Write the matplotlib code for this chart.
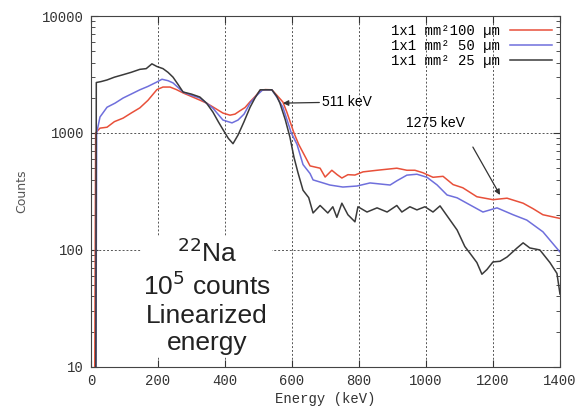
import matplotlib.pyplot as plt
from matplotlib.ticker import LogLocator, NullFormatter

# spectra (energy in keV, counts)
energy_100 = [0, 11, 14, 27, 48, 70, 96, 120, 146, 170, 197, 215, 236, 255, 275, 300, 325, 345,
              364, 394, 415, 430, 445, 460, 475, 490, 505, 520, 540, 555, 573, 585, 606, 620,
              633, 654, 684, 699, 719, 735, 749, 767, 788, 812, 854, 913, 943, 967, 991, 1021,
              1051, 1081, 1110, 1152, 1200, 1242, 1290, 1320, 1349, 1400]
counts_100 = [1, 5, 1000, 1100, 1120, 1250, 1340, 1480, 1640, 1900, 2350, 2470, 2470, 2350, 2200,
              2050, 1910, 1800, 1670, 1480, 1420, 1450, 1550, 1650, 1850, 2050, 2300, 2350, 2340,
              2100, 1840, 1500, 1000, 800, 680, 523, 500, 420, 480, 440, 412, 440, 437, 465, 480,
              500, 480, 480, 457, 418, 426, 362, 340, 285, 269, 277, 251, 225, 200, 186]

energy_50 = [0, 14, 17, 27, 48, 72, 96, 120, 146, 170, 197, 212, 230, 245, 260, 275, 300, 325,
             345, 364, 394, 421, 439, 457, 475, 495, 513, 540, 556, 573, 598, 615, 633, 654, 663,
             693, 713, 752, 794, 833, 893, 913, 943, 973, 1003, 1033, 1063, 1093, 1131, 1170,
             1212, 1260, 1301, 1349, 1400]
counts_50 = [1, 1, 1000, 1370, 1660, 1800, 1990, 2150, 2340, 2500, 2730, 2880, 2800, 2680, 2450,
             2240, 2100, 1990, 1800, 1630, 1290, 1220, 1290, 1450, 1800, 2100, 2340, 2340, 2000,
             1660, 1000, 800, 537, 450, 397, 374, 359, 345, 352, 374, 359, 390, 436, 444, 418,
             360, 295, 279, 243, 211, 229, 200, 180, 143, 96]

energy_25 = [0, 14, 16, 30, 48, 70, 96, 120, 146, 165, 182, 197, 215, 230, 245, 260, 275, 300,
             325, 345, 364, 380, 394, 410, 424, 439, 457, 475, 490, 505, 540, 555, 564, 580, 594,
             606, 618, 633, 650, 663, 684, 707, 722, 734, 749, 767, 788, 797, 824, 854, 884, 913,
             928, 952, 973, 997, 1021, 1042, 1072, 1093, 1116, 1131, 1152, 1167, 1182, 1200,
             1221, 1242, 1272, 1290, 1310, 1340, 1370, 1391, 1400]
counts_25 = [1, 1, 2700, 2750, 2840, 3000, 3150, 3300, 3500, 3550, 3900, 3700, 3550, 3300, 3000,
             2600, 2240, 2150, 2030, 1800, 1510, 1250, 1070, 900, 810, 960, 1250, 1660, 2000,
             2340, 2340, 2050, 1800, 1300, 920, 620, 457, 324, 280, 207, 240, 207, 234, 190, 251,
             200, 174, 234, 211, 229, 211, 240, 211, 234, 220, 234, 211, 238, 180, 148, 107, 94,
             78, 62, 68, 79, 80, 87, 104, 115, 104, 100, 78, 63, 42]

labels = ['1x1 mm²100 µm', '1x1 mm² 50 µm', '1x1 mm² 25 µm']
mono = 'Liberation Mono'

fig = plt.figure(figsize=(5.83, 4.16), dpi=100)
ax = fig.add_axes([0.156, 0.118, 0.8045, 0.8435])

ax.plot(energy_100, counts_100, color='#e8503a', lw=1.1, label=labels[0])
ax.plot(energy_50, counts_50, color='#6f6fdc', lw=1.1, label=labels[1])
ax.plot(energy_25, counts_25, color='#3a3a3a', lw=1.1, label=labels[2])

ax.set_yscale('log')
ax.set_xlim(0, 1400)
ax.set_ylim(10, 10000)
ax.set_xticks([0, 200, 400, 600, 800, 1000, 1200, 1400])
ax.set_yticks([10, 100, 1000, 10000])
ax.set_yticklabels(['10', '100', '1000', '10000'])
ax.yaxis.set_minor_locator(LogLocator(base=10, subs=range(2, 10)))
ax.yaxis.set_minor_formatter(NullFormatter())
ax.tick_params(which='both', direction='in', top=True, right=True, labelsize=10, colors='#333333')
ax.tick_params(which='major', length=5, pad=5)
ax.tick_params(which='minor', length=3)
for lab in ax.get_xticklabels() + ax.get_yticklabels():
    lab.set_family(mono)
ax.grid(True, which='major', color='#555555', ls=(0, (2, 2)), lw=0.7)
for s in ax.spines.values():
    s.set_color('#444444')

ax.set_xlabel('Energy (keV)', family=mono, fontsize=10, color='#333333', labelpad=3)
ax.set_ylabel('Counts', fontsize=9, color='#555555', labelpad=10)

leg = ax.legend(loc='upper right', frameon=False, markerfirst=False, handlelength=3.0,
                prop={'family': mono, 'size': 10}, labelspacing=0.05, borderaxespad=0.3,
                handletextpad=0.7, borderpad=0.3)
for t in leg.get_texts():
    t.set_ha('right')

# annotations
ax.annotate('511 keV', xy=(573, 1800), xytext=(690, 1840), fontsize=10,
            family='Liberation Sans', va='center',
            arrowprops=dict(arrowstyle='-|>', color='#333333', lw=0.9, shrinkA=0, shrinkB=0,
                            mutation_scale=8))
ax.text(1027, 1220, '1275 keV', fontsize=10, family='Liberation Sans', ha='center', va='center')
ax.annotate('', xy=(1221, 295), xytext=(1140, 758),
            arrowprops=dict(arrowstyle='-|>', color='#333333', lw=0.9, shrinkA=0, shrinkB=0,
                            mutation_scale=8))

ax.text(0.247, 0.2, '$^{22}$Na\n10$^5$ counts\nLinearized\nenergy', transform=ax.transAxes,
        fontsize=19, family='Liberation Sans', ha='center', va='center', linespacing=1.2,
        color='#222222', bbox=dict(facecolor='white', edgecolor='none', pad=1))

plt.savefig('out.png', dpi=100)
